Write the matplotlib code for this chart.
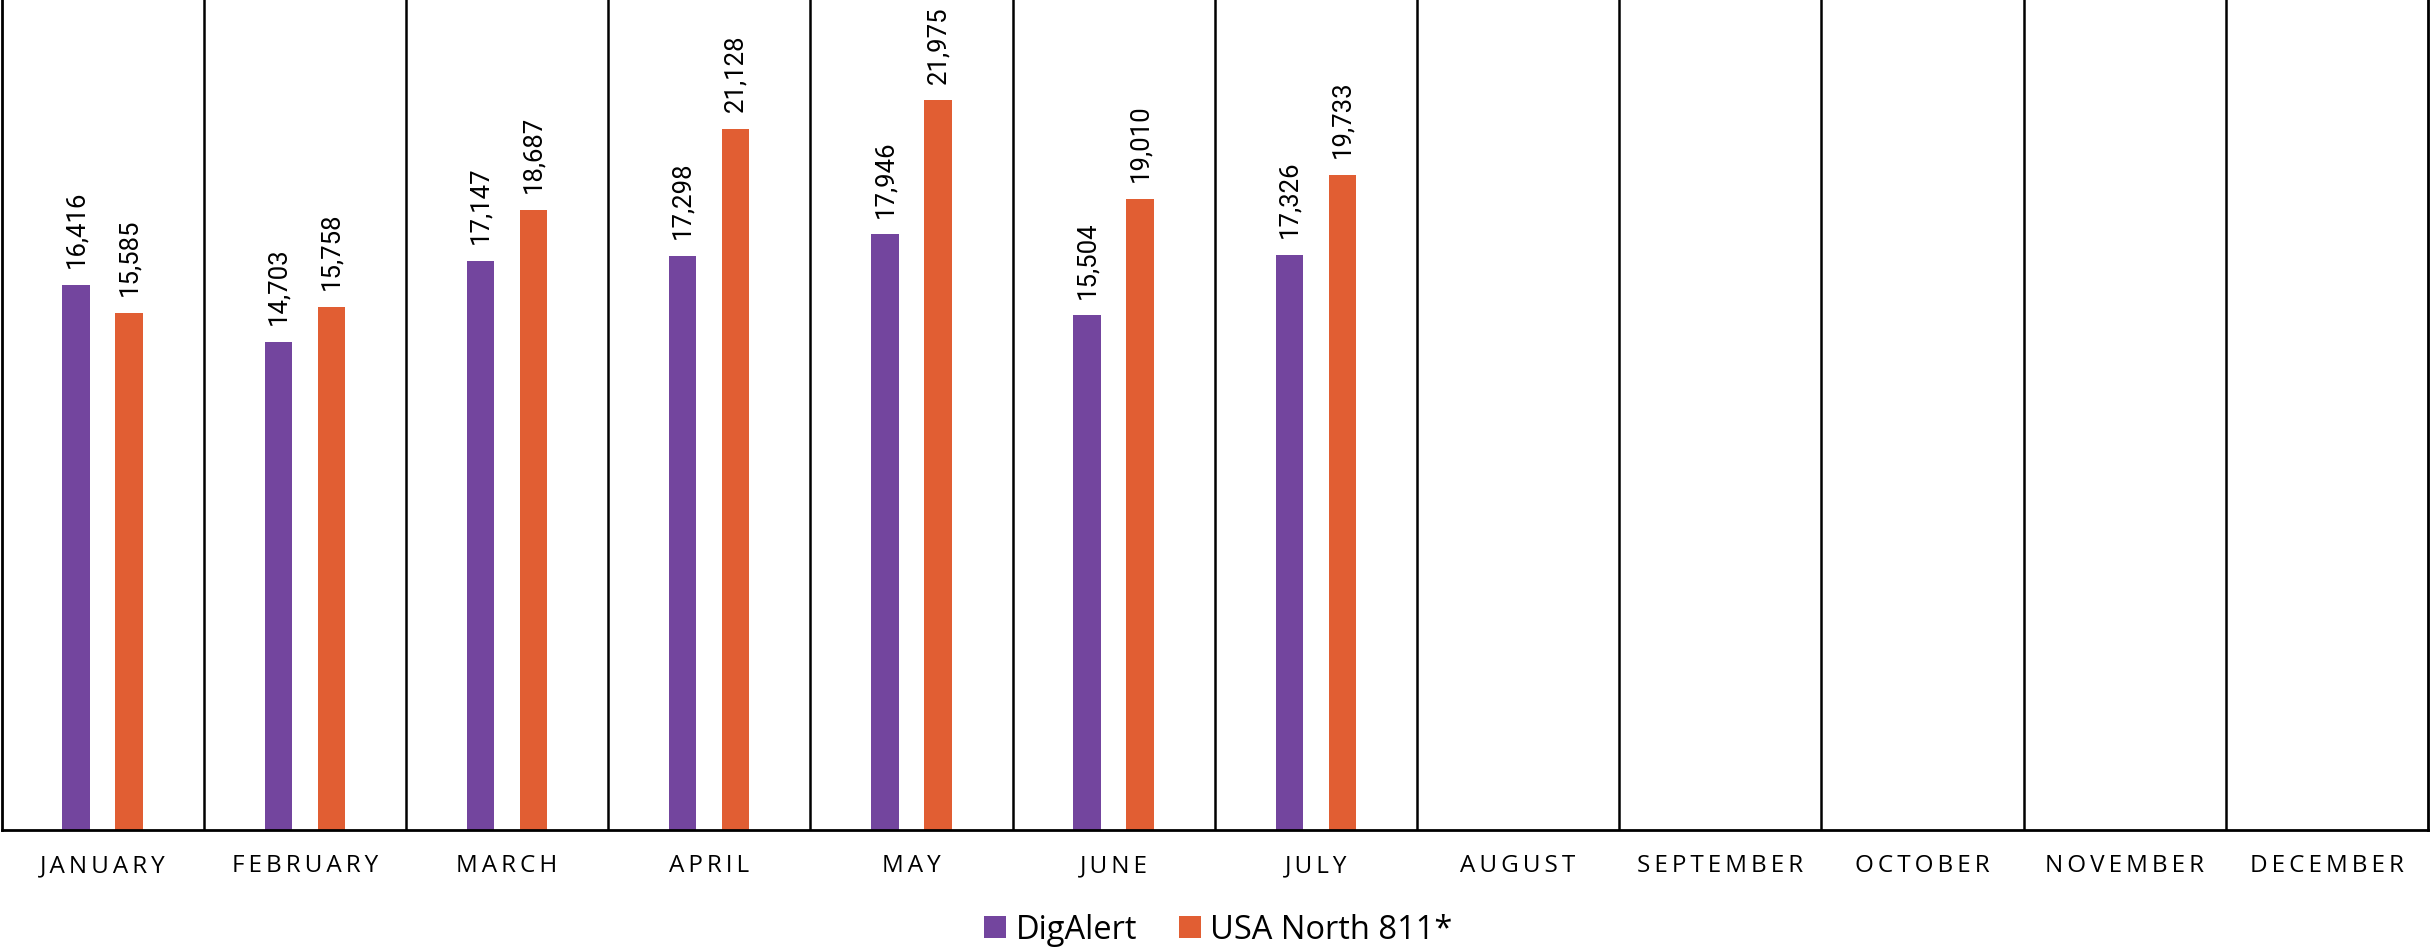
import numpy as np
import matplotlib
matplotlib.use("Agg")
import matplotlib.pyplot as plt
from matplotlib.patches import Patch

months = ["JANUARY", "FEBRUARY", "MARCH", "APRIL", "MAY", "JUNE", "JULY",
          "AUGUST", "SEPTEMBER", "OCTOBER", "NOVEMBER", "DECEMBER"]
digalert = [16416, 14703, 17147, 17298, 17946, 15504, 17326]
usa_north = [15585, 15758, 18687, 21128, 21975, 19010, 19733]
series_names = ["DigAlert", "USA North 811*"]
colors = ["#73459E", "#E15E33"]

W, H = 2430, 947
fig = plt.figure(figsize=(W / 100, H / 100), dpi=100)
ax = fig.add_axes([1.5 / W, (H - 830) / H, (2428 - 1.5) / W, 830 / H])

n = len(months)
x = np.arange(n)
bw = 0.136
off = 0.131

label_font = ["Roboto", "DejaVu Sans"]
for vals, sign, col in [(digalert, -1, colors[0]), (usa_north, 1, colors[1])]:
    xs = x[:len(vals)] + sign * off
    bars = ax.bar(xs, vals, width=bw, color=col, edgecolor="none", zorder=2)
    for b, v in zip(bars, vals):
        ax.annotate(f"{v:,}", (b.get_x() + b.get_width() / 2, b.get_height()),
                    xytext=(0, 12), textcoords="offset points",
                    rotation=90, ha="center", va="bottom",
                    fontsize=18.5, family=label_font, color="black")

ax.set_xlim(-0.5, n - 0.5)
ax.set_ylim(0, 25000)

for b in np.arange(0.5, n - 0.5, 1.0):
    ax.axvline(b, color="black", lw=1.8, zorder=1)

for s in ["left", "right", "bottom"]:
    ax.spines[s].set_color("black")
    ax.spines[s].set_linewidth(2.0)
ax.spines["top"].set_visible(False)

ax.set_yticks([])
ax.set_xticks(x)
spaced = ["\u2009".join(m) for m in months]
ax.set_xticklabels(spaced, fontsize=17.5, family=["Open Sans", "DejaVu Sans"], color="black")
ax.tick_params(axis="x", length=0, pad=17.5)

handles = [Patch(facecolor=c, edgecolor="none") for c in colors]
fig.legend(handles, series_names, loc="center", bbox_to_anchor=(0.5015, 1 - 930 / H),
           ncol=2, frameon=False, prop={"family": "Open Sans", "size": 23.5},
           handlelength=0.65, handleheight=0.65, handletextpad=0.3, columnspacing=1.3,
           borderpad=0)

fig.savefig("out.png", dpi=100, facecolor="white")
